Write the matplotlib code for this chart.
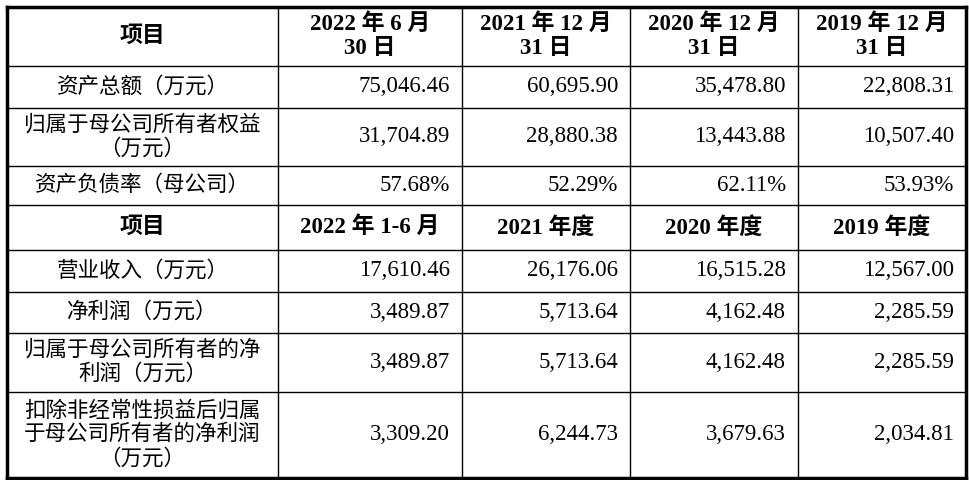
import matplotlib
matplotlib.use("Agg")
import matplotlib.pyplot as plt

header1 = ["项目", "2022 年 6 月\n30 日", "2021 年 12 月\n31 日", "2020 年 12 月\n31 日", "2019 年 12 月\n31 日"]
rows1_labels = ["资产总额（万元）", "归属于母公司所有者权益\n（万元）", "资产负债率（母公司）"]
rows1_values = [["75,046.46", "60,695.90", "35,478.80", "22,808.31"],
                ["31,704.89", "28,880.38", "13,443.88", "10,507.40"],
                ["57.68%", "52.29%", "62.11%", "53.93%"]]
header2 = ["项目", "2022 年 1-6 月", "2021 年度", "2020 年度", "2019 年度"]
rows2_labels = ["营业收入（万元）", "净利润（万元）", "归属于母公司所有者的净\n利润（万元）",
                "扣除非经常性损益后归属\n于母公司所有者的净利润\n（万元）"]
rows2_values = [["17,610.46", "26,176.06", "16,515.28", "12,567.00"],
                ["3,489.87", "5,713.64", "4,162.48", "2,285.59"],
                ["3,489.87", "5,713.64", "4,162.48", "2,285.59"],
                ["3,309.20", "6,244.73", "3,679.63", "2,034.81"]]

col_x = [7, 278, 462, 630, 798, 966]
row_y = [7, 66, 108, 166, 205, 250, 292, 333, 392, 478]
fam = ["Liberation Serif", "Noto Sans CJK SC"]
fs = 16.5

fig = plt.figure(figsize=(9.7, 4.8), dpi=100)
ax = fig.add_axes([0, 0, 1, 1])
ax.set_xlim(0, 970); ax.set_ylim(480, 0); ax.axis("off")

for i, y in enumerate(row_y):
    lw = 2.5 if i in (0, len(row_y)-1) else 1
    ax.plot([col_x[0], col_x[-1]], [y, y], color="black", lw=lw)
for i, x in enumerate(col_x):
    lw = 2.5 if i in (0, len(col_x)-1) else 1
    ax.plot([x, x], [row_y[0], row_y[-1]], color="black", lw=lw)

def header(cells, y0, y1):
    for i, t in enumerate(cells):
        ax.text((col_x[i]+col_x[i+1])/2, (y0+y1)/2, t, ha="center", va="center",
                family=fam, fontsize=fs, fontweight="bold", linespacing=1.2)

def body(labels, values, start):
    for r, (lab, vals) in enumerate(zip(labels, values)):
        y0, y1 = row_y[start+r], row_y[start+r+1]
        ym = (y0+y1)/2
        ax.text((col_x[0]+col_x[1])/2, ym, lab, ha="center", va="center", family=fam,
                fontsize=15.5, linespacing=1.2, multialignment="center")
        for c, v in enumerate(vals):
            ax.text(col_x[c+2]-12, ym, v, ha="right", va="center", family=fam, fontsize=fs)

header(header1, row_y[0], row_y[1])
body(rows1_labels, rows1_values, 1)
header(header2, row_y[4], row_y[5])
body(rows2_labels, rows2_values, 5)

fig.savefig("out.png", dpi=100, facecolor="white")
